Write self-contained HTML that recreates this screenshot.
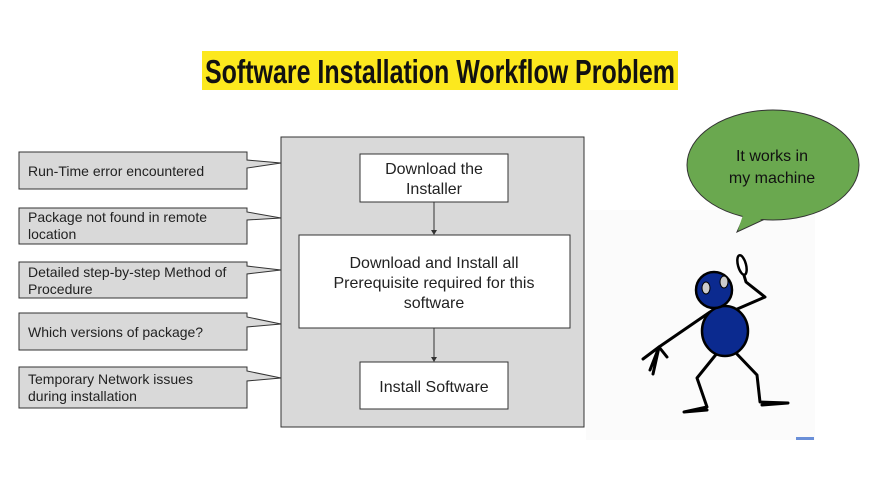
<!DOCTYPE html>
<html><head><meta charset="utf-8"><style>
html,body{margin:0;padding:0;background:#fff;width:880px;height:495px;overflow:hidden}
svg text{font-family:"Liberation Sans",Arial,sans-serif}
</style></head><body>
<svg width="880" height="495" viewBox="0 0 880 495" xmlns="http://www.w3.org/2000/svg">
<rect x="202" y="51" width="476" height="39" fill="#fce81e"/>
<text x="205" y="83" font-size="33" font-weight="bold" textLength="470" lengthAdjust="spacingAndGlyphs" fill="#111">Software Installation Workflow Problem</text>

<rect x="586" y="210" width="229" height="230" fill="#fbfbfb"/>
<rect x="796" y="437" width="18" height="3" fill="#6a8fd8"/>

<rect x="281" y="137" width="303" height="290" fill="#d9d9d9" stroke="#333" stroke-width="1"/>

<g fill="#d9d9d9" stroke="#333" stroke-width="1">
<path d="M19,152 H247 V160 L281,163 L247,168 V189 H19 Z"/>
<path d="M19,208 H247 V212 L281,218 L247,220 V244 H19 Z"/>
<path d="M19,262 H247 V266 L281,270 L247,274 V298 H19 Z"/>
<path d="M19,313 H247 V317 L281,324 L247,327 V350 H19 Z"/>
<path d="M19,367 H247 V371 L281,378 L247,381 V408 H19 Z"/>
</g>
<g font-size="14" fill="#222">
<text x="28" y="176">Run-Time error encountered</text>
<text x="28" y="222">Package not found in remote</text>
<text x="28" y="239">location</text>
<text x="28" y="277">Detailed step-by-step Method of</text>
<text x="28" y="294">Procedure</text>
<text x="28" y="337">Which versions of package?</text>
<text x="28" y="384">Temporary Network issues</text>
<text x="28" y="401">during installation</text>
</g>

<g fill="#fff" stroke="#333" stroke-width="1">
<rect x="360" y="154" width="148" height="48"/>
<rect x="299" y="235" width="271" height="93"/>
<rect x="360" y="362" width="148" height="47"/>
</g>
<g stroke="#333" stroke-width="1">
<line x1="434" y1="202" x2="434" y2="231"/>
<line x1="434" y1="328" x2="434" y2="358"/>
</g>
<path d="M431,230 L437,230 L434,235 Z" fill="#333"/>
<path d="M431,357 L437,357 L434,362 Z" fill="#333"/>
<g font-size="16" fill="#222" text-anchor="middle">
<text x="434" y="174">Download the</text>
<text x="434" y="194">Installer</text>
<text x="434" y="268">Download and Install all</text>
<text x="434" y="288">Prerequisite required for this</text>
<text x="434" y="308">software</text>
<text x="434" y="392">Install Software</text>
</g>

<path d="M745,214 L737,232 L765,219 Z" fill="#6aa84f" stroke="#333" stroke-width="1"/>
<ellipse cx="773" cy="165" rx="86" ry="55" fill="#6aa84f" stroke="#333" stroke-width="1"/>
<path d="M744,212 L738,230 L764,218" fill="#6aa84f"/>
<text x="772" y="161" font-size="16" fill="#111" text-anchor="middle">It works in</text>
<text x="772" y="183" font-size="16" fill="#111" text-anchor="middle">my machine</text>

<g stroke="#000" stroke-width="3" fill="none" stroke-linecap="round" stroke-linejoin="round">
<path d="M710,312 L659,347"/>
<path d="M659,347 L643,359 M659,347 L650,370 M659,347 L653,374 M659,347 L667,357"/>
<path d="M735,310 L765,297 L746,282 L743,272"/>
<path d="M718,352 L697,378 L707,407 L684,412 L707,410"/>
<path d="M735,352 L757,375 L760,402 L788,403 L762,405"/>
</g>
<ellipse cx="742" cy="265" rx="4" ry="10" fill="#fff" stroke="#000" stroke-width="2.5" transform="rotate(-15 742 265)"/>
<ellipse cx="725" cy="331" rx="23" ry="25" fill="#0b2a8f" stroke="#000" stroke-width="2.5"/>
<circle cx="714" cy="290" r="18" fill="#0b2a8f" stroke="#000" stroke-width="2.5"/>
<ellipse cx="706" cy="288" rx="4" ry="6" fill="#ccc" stroke="#000" stroke-width="1"/>
<ellipse cx="724" cy="282" rx="4" ry="6" fill="#ccc" stroke="#000" stroke-width="1"/>
</svg>
</body></html>
